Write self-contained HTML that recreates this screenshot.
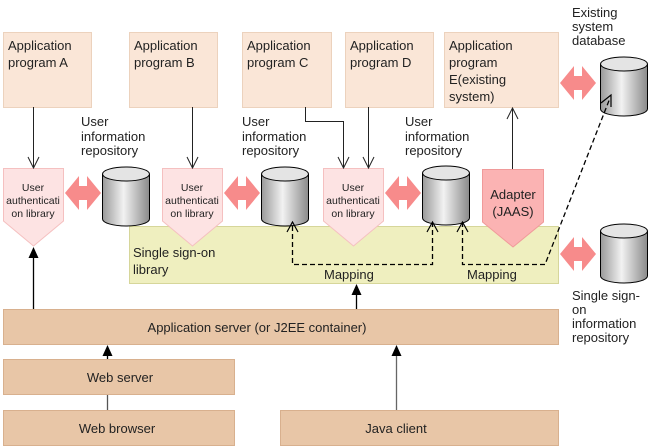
<!DOCTYPE html>
<html><head><meta charset="utf-8"><style>
html,body{margin:0;padding:0;background:#fff}
svg{display:block}
text{font-family:"Liberation Sans",Arial,sans-serif;font-size:13px;fill:#222}
.s{font-size:10.5px}
</style></head><body>
<svg width="655" height="448" viewBox="0 0 655 448" xmlns="http://www.w3.org/2000/svg">
<defs>
<linearGradient id="cg" x1="0" x2="1" y1="0" y2="0">
<stop offset="0" stop-color="#999"/><stop offset="0.45" stop-color="#f2f2f2"/><stop offset="1" stop-color="#8a8a8a"/>
</linearGradient>
<g id="cy" stroke="#000" stroke-width="1"><path d="M0,7 V52 A23.5,7 0 0 0 47,52 V7" fill="url(#cg)"/><ellipse cx="23.5" cy="7" rx="23.5" ry="7" fill="#e4e4e4"/></g>
<path id="da" d="M0,17 L14,0 V10 H22 V0 L36,17 L22,34 V24 H14 V34 Z" fill="#f78b8b"/>
</defs>

<!-- application boxes -->
<g fill="#fae6d7" stroke="#ecd2bd">
<rect x="3.5" y="32.5" width="88" height="75"/>
<rect x="129.5" y="32.5" width="88" height="75"/>
<rect x="242.5" y="32.5" width="89" height="75"/>
<rect x="345.5" y="32.5" width="88" height="75"/>
<rect x="444.5" y="32.5" width="114" height="75"/>
</g>
<text x="8" y="50">Application</text><text x="8" y="67">program A</text>
<text x="134" y="50">Application</text><text x="134" y="67">program B</text>
<text x="247" y="50">Application</text><text x="247" y="67">program C</text>
<text x="350" y="50">Application</text><text x="350" y="67">program D</text>
<text x="449" y="50">Application</text><text x="449" y="67">program</text><text x="449" y="84">E(existing</text><text x="449" y="101">system)</text>

<text x="81" y="126">User</text><text x="81" y="141">information</text><text x="81" y="155">repository</text>
<text x="242" y="126">User</text><text x="242" y="141">information</text><text x="242" y="155">repository</text>
<text x="405" y="126">User</text><text x="405" y="141">information</text><text x="405" y="155">repository</text>
<text x="572" y="17">Existing</text><text x="572" y="31">system</text><text x="572" y="45">database</text>
<text x="572" y="300">Single sign-</text><text x="572" y="314">on</text><text x="572" y="328">information</text><text x="572" y="342">repository</text>

<rect x="129.5" y="226.5" width="429" height="57" fill="#efefbf" stroke="#d6d69a"/>
<text x="133" y="257">Single sign-on</text><text x="133" y="274">library</text>
<text x="324" y="279">Mapping</text><text x="467" y="279">Mapping</text>

<g fill="#fde3e3" stroke="#f5c0c0">
<path d="M3.5,168.5 H63.5 V221 L33.5,246 L3.5,221 Z"/>
<path d="M162.5,168.5 H222.5 V221 L192.5,246 L162.5,221 Z"/>
<path d="M323.5,168.5 H383.5 V221 L353.5,246 L323.5,221 Z"/>
</g>
<path d="M482.5,169.5 H543.5 V222 L513,247 L482.5,222 Z" fill="#fbb3b3" stroke="#f09a9a"/>
<text class="s" x="33" y="191" text-anchor="middle">User</text><text class="s" x="33" y="204" text-anchor="middle">authenticati</text><text class="s" x="33" y="217" text-anchor="middle">on library</text>
<text class="s" x="192" y="191" text-anchor="middle">User</text><text class="s" x="192" y="204" text-anchor="middle">authenticati</text><text class="s" x="192" y="217" text-anchor="middle">on library</text>
<text class="s" x="353" y="191" text-anchor="middle">User</text><text class="s" x="353" y="204" text-anchor="middle">authenticati</text><text class="s" x="353" y="217" text-anchor="middle">on library</text>
<text x="513" y="199" text-anchor="middle">Adapter</text><text x="513" y="216" text-anchor="middle">(JAAS)</text>

<use href="#da" x="65" y="176"/>
<use href="#da" x="224" y="176"/>
<use href="#da" x="385" y="176"/>
<use href="#da" x="560" y="66"/>
<use href="#da" x="560" y="237"/>

<use href="#cy" x="102.5" y="167"/>
<use href="#cy" x="261.5" y="167"/>
<use href="#cy" x="422.5" y="166"/>
<use href="#cy" x="600.5" y="57"/>
<use href="#cy" x="600.5" y="224"/>

<!-- solid arrows -->
<g stroke="#222" stroke-width="1" fill="none">
<line x1="33.5" y1="107" x2="33.5" y2="168"/>
<path d="M28,157 L33.5,168 L39,157"/>
<line x1="192.5" y1="107" x2="192.5" y2="168"/>
<path d="M187,157 L192.5,168 L198,157"/>
<polyline points="305.5,107 305.5,121.5 343.5,121.5 343.5,168"/>
<path d="M338,157 L343.5,168 L349,157"/>
<line x1="368.5" y1="107" x2="368.5" y2="168"/>
<path d="M363,157 L368.5,168 L374,157"/>
<line x1="512.5" y1="169" x2="512.5" y2="108"/>
<path d="M507,119 L512.5,108 L518,119"/>
</g>
<g stroke="#000" stroke-width="1.3" fill="none" stroke-dasharray="5,3">
<polyline points="432.5,222 432.5,264.5 292.5,264.5 292.5,222"/>
<polyline points="462.5,222 462.5,264.5 545,264.5 610,98"/>
</g>
<g stroke="#000" stroke-width="1.2" fill="none">
<path d="M287,232 L292.5,222 L298,232"/>
<path d="M427,232 L432.5,222 L438,232"/>
<path d="M457,232 L462.5,222 L468,232"/>
<path d="M601,103 L611,95 L611,107"/>
</g>
<g stroke="#000" stroke-width="1.3">
<line x1="33.5" y1="309" x2="33.5" y2="255"/>
<line x1="356.5" y1="309" x2="356.5" y2="292"/>
<line x1="107.5" y1="359" x2="107.5" y2="352"/>
<line x1="107.5" y1="410" x2="107.5" y2="395" stroke="#555"/>
<line x1="396.5" y1="410" x2="396.5" y2="352" stroke="#666"/>
</g>
<g fill="#000">
<path d="M28.5,258 L33.5,247 L38.5,258 Z"/>
<path d="M351.5,295 L356.5,284 L361.5,295 Z"/>
<path d="M102.5,356 L107.5,345 L112.5,356 Z"/>
<path d="M391.5,356 L396.5,345 L401.5,356 Z"/>
</g>

<g fill="#e8c6a7" stroke="#d8b08e">
<rect x="3.5" y="309.5" width="555" height="35"/>
<rect x="3.5" y="359.5" width="231" height="35"/>
<rect x="3.5" y="410.5" width="231" height="35"/>
<rect x="280.5" y="410.5" width="278" height="35"/>
</g>
<text x="257" y="332" text-anchor="middle">Application server (or J2EE container)</text>
<text x="120" y="382" text-anchor="middle">Web server</text>
<text x="117" y="433" text-anchor="middle">Web browser</text>
<text x="396" y="433" text-anchor="middle">Java client</text>
</svg>
</body></html>
